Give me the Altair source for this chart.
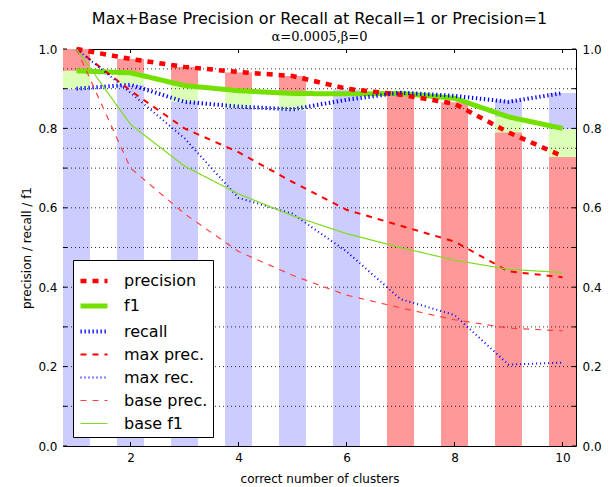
import altair as alt
import pandas as pd

# ---------------- data ----------------
clusters = [1, 2, 3, 4, 5, 6, 7, 8, 9, 10]

precision = [1.0, 0.975, 0.955, 0.942, 0.932, 0.900, 0.885, 0.862, 0.790, 0.730]
f1 = [0.945, 0.940, 0.908, 0.895, 0.888, 0.887, 0.888, 0.876, 0.829, 0.800]
recall = [0.900, 0.910, 0.867, 0.855, 0.848, 0.872, 0.890, 0.882, 0.867, 0.889]
max_prec = [1.0, 0.895, 0.800, 0.740, 0.665, 0.595, 0.555, 0.515, 0.440, 0.425]
max_rec = [1.0, 0.890, 0.775, 0.625, 0.585, 0.490, 0.370, 0.330, 0.205, 0.210]
base_prec = [1.0, 0.700, 0.585, 0.490, 0.430, 0.380, 0.348, 0.318, 0.297, 0.290]
base_f1 = [1.0, 0.810, 0.705, 0.635, 0.580, 0.535, 0.500, 0.468, 0.445, 0.437]

# stacked background bars: bottom segment, green (f1) segment, top segment
bar_low_top = [0.900, 0.910, 0.867, 0.853, 0.846, 0.898, 0.884, 0.866, 0.790, 0.728]
bar_f1_top = [0.945, 0.940, 0.908, 0.895, 0.888, 0.898, 0.884, 0.866, 0.829, 0.798]
bar_top = [1.000, 0.975, 0.955, 0.941, 0.932, 0.898, 0.884, 0.866, 0.871, 0.889]
bar_low_kind = ["recall"] * 6 + ["precision"] * 4
bar_top_kind = ["precision"] * 6 + ["recall"] * 4

series_names = ["f1", "precision", "recall", "max prec.", "max rec.", "base prec.", "base f1"]
legend_order = ["precision", "f1", "recall", "max prec.", "max rec.", "base prec.", "base f1"]
series_values = {
    "precision": precision, "f1": f1, "recall": recall, "max prec.": max_prec,
    "max rec.": max_rec, "base prec.": base_prec, "base f1": base_f1,
}

y_tick_values = [0.0, 0.1, 0.2, 0.3, 0.4, 0.5, 0.6, 0.7, 0.8, 0.9, 1.0]
y_label_values = [0.0, 0.2, 0.4, 0.6, 0.8, 1.0]
x_tick_values = [2, 4, 6, 8, 10]
grid_values = [0.1, 0.2, 0.3, 0.4, 0.5, 0.6, 0.7, 0.75, 0.8, 0.85, 0.9, 0.95]

# ---------------- tables ----------------
seg_rows = []
for i, c in enumerate(clusters):
    seg_rows.append({"x": c, "y0": 0.0, "y1": bar_low_top[i], "kind": bar_low_kind[i]})
    seg_rows.append({"x": c, "y0": bar_low_top[i], "y1": bar_f1_top[i], "kind": "f1"})
    seg_rows.append({"x": c, "y0": bar_f1_top[i], "y1": bar_top[i], "kind": bar_top_kind[i]})
seg_df = pd.DataFrame(seg_rows)

line_rows = []
for name in series_names:
    for c, v in zip(clusters, series_values[name]):
        line_rows.append({"series": name, "x": c, "v": v})
line_df = pd.DataFrame(line_rows)

ytick_df = pd.DataFrame({"v": y_tick_values})
xtick_df = pd.DataFrame({"v": x_tick_values})
grid_df = pd.DataFrame({"v": grid_values})

# ---------------- chart ----------------
W, H = 513, 397
FONT = "DejaVu Sans"
xs = alt.Scale(domain=[0.75, 10.25], nice=False, zero=False)
ys = alt.Scale(domain=[0, 1], nice=False, zero=False)

x_axis = alt.Axis(values=x_tick_values, format="d", title="correct number of clusters",
                  orient="bottom", labelPadding=6, titlePadding=10)

bars = alt.Chart(seg_df).transform_calculate(
    xl="datum.x - 0.25", xr="datum.x + 0.25"
).mark_rect(strokeWidth=0).encode(
    x=alt.X("xl:Q", scale=xs, axis=x_axis),
    x2="xr:Q",
    y=alt.Y("y0:Q", scale=ys, axis=alt.Axis(
        values=y_label_values, format=".1f", title="precision / recall / f1",
        orient="left", labelPadding=6, titlePadding=4)),
    y2="y1:Q",
    fill=alt.Fill("kind:N", scale=alt.Scale(
        domain=["recall", "f1", "precision"],
        range=["#ccccff", "#dcffb8", "#ff9999"]), legend=None),
)

grid = alt.Chart(grid_df).mark_rule(
    color="black", strokeWidth=1, strokeDash=[1, 3], opacity=0.8
).encode(
    y=alt.Y("v:Q", scale=ys, axis=None),
    x=alt.value(0), x2=alt.value(W),
)

colors = {
    "precision": "#ff0000", "f1": "#74e000", "recall": "#0000ff",
    "max prec.": "#ff0000", "max rec.": "#0000ff",
    "base prec.": "#ff4040", "base f1": "#7fdc20",
}
dashes = {
    "precision": [6, 6], "f1": [1, 0], "recall": [1.3, 2.7],
    "max prec.": [6, 6], "max rec.": [1, 3],
    "base prec.": [6, 6], "base f1": [1, 0],
}
widths = {
    "precision": 4.5, "f1": 5, "recall": 4,
    "max prec.": 2, "max rec.": 2, "base prec.": 1.2, "base f1": 1.2,
}

lines = alt.Chart(line_df).mark_line(strokeCap="butt").encode(
    x=alt.X("x:Q", scale=xs, axis=x_axis),
    y=alt.Y("v:Q", scale=ys, axis=None),
    color=alt.Color("series:N", scale=alt.Scale(
        domain=legend_order, range=[colors[n] for n in legend_order]),
        legend=alt.Legend(title=None)),
    strokeDash=alt.StrokeDash("series:N", scale=alt.Scale(
        type="ordinal", domain=legend_order, range=[dashes[n] for n in legend_order]),
        legend=alt.Legend(title=None)),
    strokeWidth=alt.StrokeWidth("series:N", scale=alt.Scale(
        type="ordinal", domain=legend_order, range=[widths[n] for n in legend_order]),
        legend=alt.Legend(title=None)),
)

left_ticks = alt.Chart(ytick_df).mark_rule(color="black").encode(
    y=alt.Y("v:Q", scale=ys, axis=None), x=alt.value(0), x2=alt.value(4))
right_ticks = alt.Chart(ytick_df).mark_rule(color="black").encode(
    y=alt.Y("v:Q", scale=ys, axis=alt.Axis(
        values=y_label_values, format=".1f", title=None, orient="right",
        labelPadding=6)),
    x=alt.value(W - 4), x2=alt.value(W))
bottom_ticks = alt.Chart(xtick_df).mark_rule(color="black").encode(
    x=alt.X("v:Q", scale=xs, axis=x_axis), y=alt.value(H - 4), y2=alt.value(H))
top_ticks = alt.Chart(xtick_df).mark_rule(color="black").encode(
    x=alt.X("v:Q", scale=xs, axis=x_axis), y=alt.value(0), y2=alt.value(4))

chart = alt.layer(
    bars, grid, lines, left_ticks, right_ticks, bottom_ticks, top_ticks
).resolve_axis(y="independent").properties(
    width=W, height=H,
    title=alt.TitleParams(
        text="Max+Base Precision or Recall at Recall=1 or Precision=1",
        subtitle="α=0.0005,β=0",
        font=FONT, fontSize=16, fontWeight="normal", color="black",
        subtitleFont="DejaVu Serif", subtitleFontSize=13, subtitleColor="black",
        subtitlePadding=4, anchor="middle", offset=-4,
    ),
    autosize=alt.AutoSizeParams(type="none"),
    padding={"left": 55, "top": 41, "right": 29, "bottom": 39},
).configure_view(
    stroke="black", strokeWidth=1
).configure_axis(
    labelFont=FONT, titleFont=FONT, labelFontSize=12, titleFontSize=12,
    labelColor="black", titleColor="black", titleFontWeight="normal",
    domain=False, ticks=False, grid=False,
).configure_legend(
    orient="none", legendX=10, legendY=211,
    fillColor="white", strokeColor="black", strokeWidth=1,
    padding=5, cornerRadius=0,
    labelFont=FONT, labelFontSize=16, labelColor="black", labelOffset=14,
    symbolType="stroke", symbolSize=729, rowPadding=-1,
)

chart.save("out.html", embed_options={"renderer": "svg", "actions": False})
